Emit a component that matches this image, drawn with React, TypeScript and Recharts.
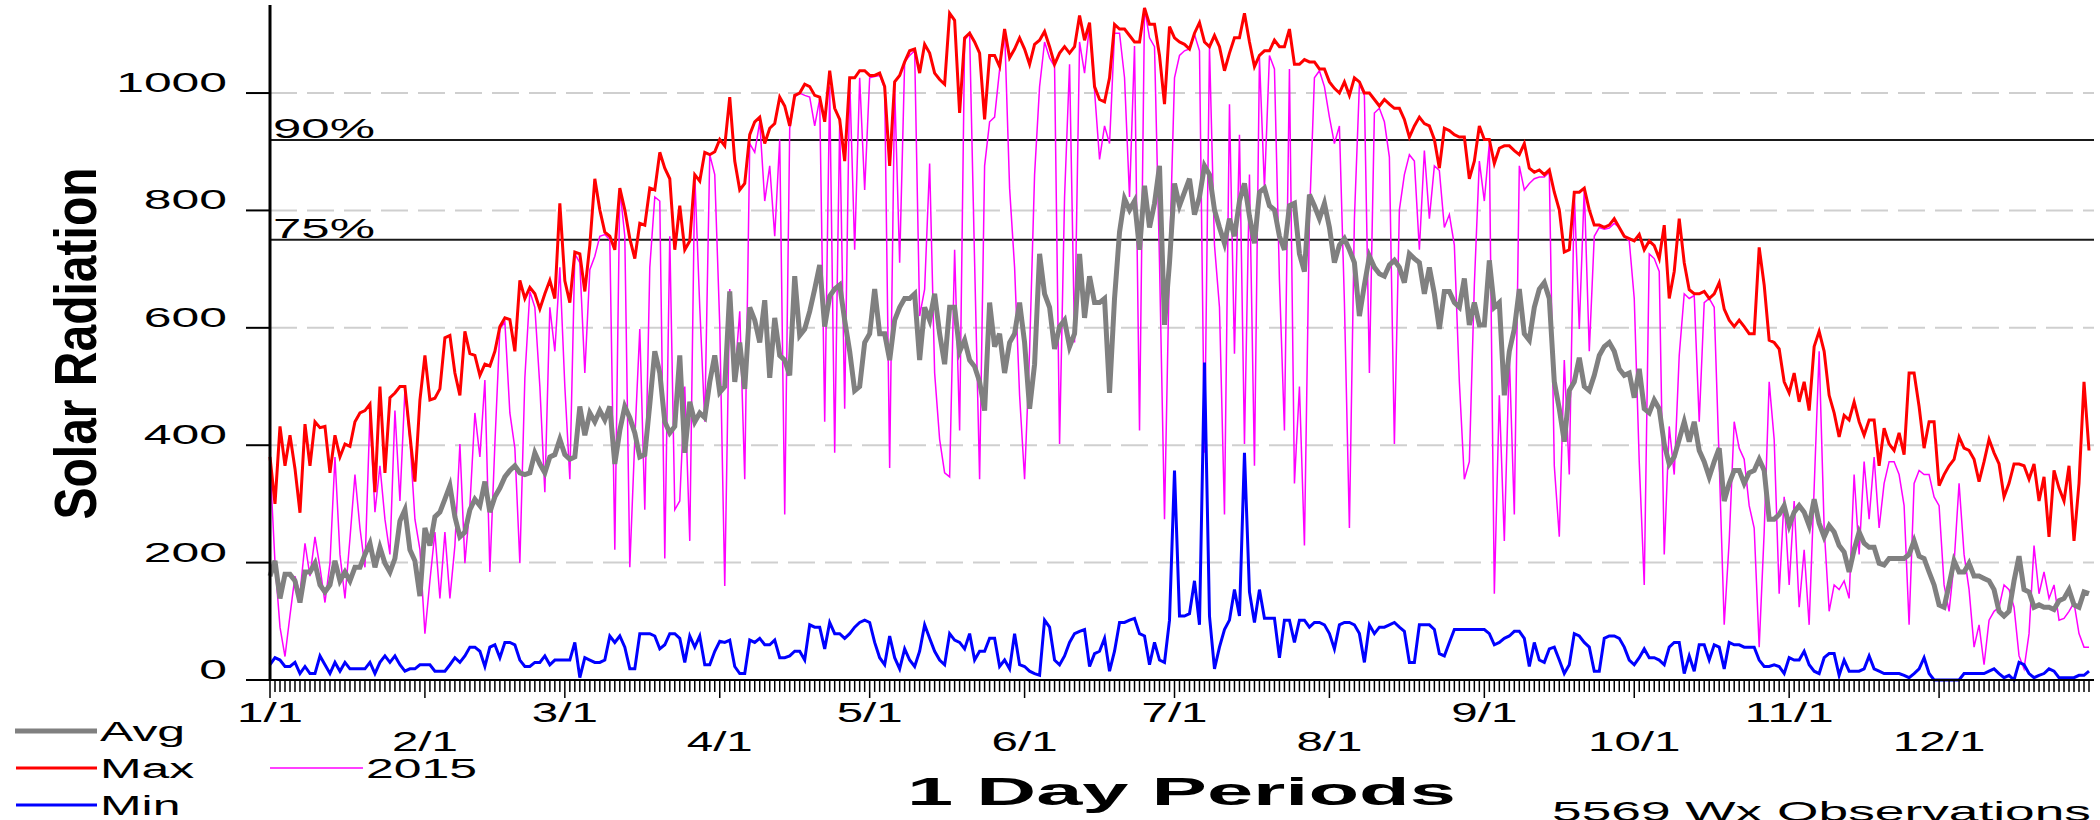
import React from "react";
import { LineChart, Line, XAxis, YAxis, CartesianGrid, ReferenceLine } from "recharts";

const FONT = '"Liberation Sans", Arial, Helvetica, sans-serif';

// month starts (day index in a 365 day year) and their labels
const monthStarts = [0, 31, 59, 90, 120, 151, 181, 212, 243, 273, 304, 334];
const monthLabels = ["1/1", "2/1", "3/1", "4/1", "5/1", "6/1", "7/1", "8/1", "9/1", "10/1", "11/1", "12/1"];
const yTicks = [0, 200, 400, 600, 800, 1000];
const pct90 = 920;
const pct75 = 750;

const avgSeries = [
  177, 203, 139, 180, 180, 169, 132, 184, 184, 199,
  162, 150, 162, 203, 169, 184, 169, 192, 192, 214,
  233, 192, 226, 199, 184, 207, 271, 290, 222, 203,
  143, 259, 229, 278, 286, 308, 331, 278, 244, 252,
  290, 308, 297, 338, 286, 312, 327, 346, 357, 365,
  353, 350, 353, 387, 368, 353, 380, 384, 410, 384,
  376, 380, 466, 417, 455, 440, 459, 443, 466, 368,
  425, 466, 447, 421, 380, 384, 470, 560, 523, 440,
  421, 432, 553, 387, 474, 440, 455, 447, 508, 553,
  490, 500, 662, 508, 575, 496, 635, 613, 575, 647,
  515, 617, 553, 545, 519, 688, 587, 598, 628, 666,
  707, 602, 654, 666, 673, 613, 560, 493, 500, 575,
  590, 666, 590, 590, 545, 613, 635, 650, 650, 658,
  545, 635, 613, 658, 590, 538, 635, 635, 560, 579,
  545, 534, 508, 459, 643, 568, 590, 523, 575, 590,
  643, 575, 462, 538, 726, 658, 635, 564, 602, 613,
  568, 590, 726, 617, 688, 643, 643, 650, 489, 650,
  763, 820, 801, 816, 733, 842, 771, 812, 876, 605,
  711, 846, 808, 831, 854, 793, 823, 876, 861, 801,
  771, 744, 786, 756, 816, 846, 790, 744, 831, 838,
  808, 801, 756, 733, 808, 812, 726, 696, 827, 808,
  786, 812, 771, 711, 741, 752, 733, 711, 620, 673,
  722, 703, 692, 688, 707, 715, 703, 677, 726, 718,
  711, 658, 703, 658, 598, 662, 662, 643, 635, 684,
  605, 643, 605, 605, 715, 635, 643, 485, 560, 598,
  666, 590, 579, 635, 666, 677, 650, 508, 462, 406,
  493, 508, 549, 500, 493, 519, 553, 568, 575, 560,
  530, 519, 523, 481, 530, 462, 455, 477, 462, 402,
  368, 380, 410, 440, 406, 440, 391, 372, 346, 372,
  395, 305, 335, 357, 357, 335, 353, 357, 376, 357,
  274, 274, 282, 297, 263, 286, 297, 286, 263, 308,
  267, 244, 263, 252, 229, 218, 184, 222, 252, 233,
  226, 226, 199, 196, 207, 207, 207, 207, 214, 237,
  211, 207, 184, 162, 128, 124, 162, 203, 184, 184,
  199, 177, 177, 173, 169, 154, 117, 109, 117, 169,
  211, 154, 150, 124, 128, 124, 124, 120, 135, 139,
  154, 128, 124, 150, 147,
];

const maxSeries = [
  380, 300, 432, 365, 417, 360, 285, 436, 365, 440,
  430, 432, 353, 417, 380, 402, 398, 440, 455, 459,
  470, 320, 500, 353, 481, 489, 500, 500, 417, 338,
  477, 553, 477, 480, 496, 583, 587, 523, 485, 594,
  556, 553, 519, 538, 535, 560, 602, 617, 614, 560,
  681, 650, 669, 658, 632, 658, 681, 650, 812, 680,
  643, 729, 726, 662, 741, 854, 801, 763, 756, 733,
  838, 801, 752, 718, 778, 775, 838, 835, 899, 872,
  854, 733, 808, 733, 748, 861, 850, 899, 895, 900,
  921, 910, 993, 884, 835, 846, 929, 951, 959, 914,
  940, 948, 993, 978, 944, 996, 1000, 1015, 1011, 996,
  993, 951, 1038, 974, 955, 884, 1026, 1026, 1038, 1038,
  1030, 1030, 1034, 1011, 876, 1019, 1030, 1053, 1072, 1075,
  1034, 1083, 1068, 1034, 1023, 1015, 1136, 1124, 966, 1094,
  1102, 1087, 1068, 955, 1064, 1064, 1045, 1109, 1060, 1075,
  1094, 1075, 1049, 1083, 1090, 1105, 1079, 1049, 1068, 1079,
  1068, 1079, 1132, 1090, 1120, 1011, 989, 985, 1026, 1117,
  1109, 1109, 1098, 1087, 1087, 1145, 1117, 1117, 1064, 981,
  1113, 1094, 1087, 1083, 1075, 1102, 1120, 1087, 1079, 1098,
  1079, 1038, 1068, 1094, 1094, 1136, 1087, 1045, 1064, 1072,
  1072, 1090, 1079, 1079, 1109, 1049, 1049, 1057, 1053, 1053,
  1041, 1041, 1019, 1008, 1000, 1019, 996, 1026, 1019, 1000,
  1000, 989, 978, 989, 981, 974, 974, 955, 925, 944,
  959, 948, 944, 921, 872, 940, 936, 929, 925, 925,
  854, 884, 944, 921, 921, 880, 906, 910, 910, 902,
  895, 914, 872, 865, 869, 861, 869, 831, 801, 729,
  733, 831, 831, 838, 801, 775, 775, 771, 775, 786,
  771, 756, 752, 748, 759, 733, 748, 740, 718, 775,
  650, 696, 786, 711, 665, 658, 658, 662, 650, 658,
  677, 632, 613, 602, 613, 602, 590, 590, 737, 673,
  579, 575, 564, 508, 489, 523, 474, 508, 459, 568,
  594, 560, 485, 455, 414, 451, 443, 474, 440, 417,
  443, 443, 365, 429, 402, 391, 421, 384, 523, 523,
  466, 395, 440, 440, 331, 350, 365, 376, 414, 395,
  391, 376, 338, 372, 410, 387, 368, 312, 335, 368,
  368, 365, 342, 368, 305, 346, 244, 357, 327, 305,
  365, 237, 335, 508, 391,
];

const minSeries = [
  26, 38, 34, 23, 23, 30, 11, 23, 11, 11,
  41, 26, 11, 30, 15, 30, 19, 19, 19, 19,
  30, 11, 30, 41, 30, 41, 26, 15, 19, 19,
  26, 26, 26, 15, 15, 15, 26, 38, 30, 41,
  56, 56, 49, 23, 56, 60, 38, 64, 64, 60,
  34, 23, 23, 30, 30, 41, 26, 34, 34, 34,
  34, 64, 4, 38, 34, 30, 30, 34, 75, 64,
  75, 56, 19, 19, 79, 79, 79, 75, 53, 60,
  79, 79, 71, 30, 75, 56, 75, 26, 26, 49,
  66, 64, 68, 23, 11, 11, 68, 64, 71, 60,
  60, 68, 38, 38, 41, 49, 49, 34, 94, 90,
  90, 53, 98, 79, 79, 71, 79, 90, 98, 102,
  98, 64, 38, 26, 75, 38, 19, 53, 34, 23,
  49, 94, 71, 49, 34, 26, 79, 68, 64, 53,
  79, 34, 49, 49, 71, 71, 23, 34, 19, 79,
  26, 23, 15, 11, 8, 102, 90, 34, 26, 41,
  64, 79, 83, 86, 23, 45, 49, 71, 15, 49,
  98, 98, 102, 105, 79, 75, 26, 64, 34, 30,
  102, 357, 109, 109, 113, 169, 94, 541, 109, 19,
  56, 86, 102, 154, 109, 387, 150, 98, 154, 105,
  105, 105, 38, 102, 102, 64, 102, 102, 90, 98,
  98, 94, 79, 53, 94, 98, 98, 94, 79, 30,
  94, 79, 90, 90, 94, 98, 90, 83, 30, 30,
  94, 94, 94, 86, 45, 41, 64, 86, 86, 86,
  86, 86, 86, 86, 79, 60, 64, 71, 75, 83,
  83, 71, 23, 64, 34, 30, 53, 56, 34, 11,
  26, 79, 75, 64, 56, 15, 15, 71, 75, 75,
  71, 56, 34, 26, 38, 53, 38, 38, 34, 26,
  56, 64, 64, 11, 41, 15, 60, 60, 34, 60,
  56, 19, 64, 60, 60, 56, 56, 56, 34, 23,
  23, 26, 23, 11, 38, 34, 34, 49, 26, 15,
  11, 38, 45, 45, 8, 34, 15, 15, 15, 19,
  41, 19, 15, 11, 11, 11, 11, 8, 4, 11,
  19, 38, 11, 0, 0, 0, 0, 0, 0, 11,
  11, 11, 11, 11, 15, 19, 11, 4, 8, 0,
  30, 26, 11, 4, 8, 11, 19, 15, 4, 4,
  4, 4, 8, 8, 15,
];

const series2015 = [
  370, 200, 90, 40, 110, 177, 147, 233, 177, 244,
  192, 132, 199, 380, 214, 139, 241, 350, 259, 192,
  455, 286, 365, 274, 214, 459, 305, 495, 410, 274,
  222, 79, 169, 252, 139, 252, 139, 229, 402, 199,
  297, 455, 380, 511, 184, 402, 598, 610, 455, 395,
  199, 515, 662, 635, 500, 320, 635, 560, 703, 500,
  342, 726, 711, 523, 699, 722, 756, 759, 750, 222,
  838, 756, 192, 410, 598, 290, 703, 823, 816, 207,
  756, 290, 305, 500, 237, 861, 635, 440, 895, 861,
  605, 160, 666, 515, 628, 342, 914, 899, 951, 816,
  876, 756, 921, 282, 940, 993, 1000, 996, 993, 944,
  990, 440, 1011, 387, 951, 462, 1026, 733, 1026, 835,
  1026, 1028, 1030, 1008, 361, 1011, 711, 1053, 1064, 1072,
  620, 666, 880, 523, 410, 353, 346, 733, 425, 1090,
  1102, 711, 342, 876, 951, 959, 1040, 1109, 838, 703,
  485, 342, 560, 861, 1011, 1087, 1060, 1045, 402, 823,
  1049, 575, 1087, 1034, 1117, 1004, 887, 944, 914, 1102,
  1102, 1026, 823, 1080, 425, 1145, 1094, 1079, 711, 274,
  718, 1026, 1064, 1072, 1075, 1100, 1072, 387, 1079, 741,
  635, 282, 981, 556, 929, 402, 861, 365, 1060, 838,
  1064, 1041, 681, 425, 1041, 335, 500, 229, 786, 1026,
  1038, 1011, 959, 914, 944, 643, 259, 786, 1015, 996,
  523, 966, 974, 951, 891, 402, 801, 861, 895, 884,
  733, 902, 786, 876, 868, 771, 793, 741, 508, 342,
  372, 673, 884, 816, 914, 147, 485, 237, 553, 282,
  876, 835, 846, 854, 857, 857, 865, 365, 244, 545,
  350, 831, 598, 838, 560, 756, 771, 768, 770, 778,
  771, 756, 748, 650, 372, 162, 726, 718, 696, 214,
  432, 350, 553, 658, 650, 655, 440, 643, 650, 635,
  372, 94, 237, 440, 395, 376, 297, 259, 56, 252,
  508, 410, 147, 312, 162, 305, 124, 222, 94, 327,
  560, 259, 117, 162, 154, 169, 139, 350, 214, 372,
  274, 380, 259, 335, 372, 372, 350, 297, 94, 335,
  357, 350, 350, 312, 297, 162, 117, 199, 335, 214,
  154, 56, 94, 26, 102, 117, 124, 162, 154, 124,
  41, 19, 79, 229, 147, 184, 139, 162, 102, 105,
  117, 132, 79, 56, 56,
];

const dayTicks = maxSeries.map((_, i) => i);
const rows = dayTicks.map((d) => ({
  day: d,
  avg: avgSeries[d],
  max: maxSeries[d],
  min: minSeries[d],
  y2015: series2015[d],
}));

function XTick({ x, y, payload }: any) {
  const idx = monthStarts.indexOf(payload.value);
  const major = idx >= 0;
  return (
    <g>
      <line x1={x} x2={x} y1={y} y2={y + (major ? 18 : 12)} stroke="#000" strokeWidth={1.5} />
      {major && (
        <text
          transform={`translate(${x},${y + (idx % 2 === 0 ? 42 : 71)}) scale(1.76,1)`}
          textAnchor="middle"
          fontSize={27}
          fontFamily={FONT}
          fill="#000"
        >
          {monthLabels[idx]}
        </text>
      )}
    </g>
  );
}

function YTick({ x, y, payload }: any) {
  return (
    <g>
      <line x1={x - 24} x2={x} y1={y} y2={y} stroke="#000" strokeWidth={2} />
      <text
        transform={`translate(${x - 43},${y - 1}) scale(1.78,1)`}
        textAnchor="end"
        fontSize={28}
        fontFamily={FONT}
        fill="#000"
      >
        {payload.value}
      </text>
    </g>
  );
}

const refLabel = (text: string) => (p: any) => (
  <text
    transform={`translate(${p.viewBox.x + 3},${p.viewBox.y - 2}) scale(1.82,1)`}
    fontSize={28}
    fontFamily={FONT}
    fill="#000"
  >
    {text}
  </text>
);

function LegendKey({ x, y, len, color, width, label }: any) {
  return (
    <g>
      <line x1={x} x2={x + len} y1={y} y2={y} stroke={color} strokeWidth={width} />
      <text
        transform={`translate(${x + len + 3},${y + 10}) scale(1.85,1)`}
        fontSize={27}
        fontFamily={FONT}
        fill="#000"
      >
        {label}
      </text>
    </g>
  );
}

export default function App() {
  return (
    <div style={{ position: "absolute", left: 0, top: 0, width: 2100, height: 820, background: "#fff" }}>
      <LineChart
        width={2100}
        height={820}
        data={rows}
        margin={{ top: 5, right: 6, left: 210, bottom: 100 }}
      >
        <CartesianGrid
          vertical={false}
          horizontalValues={yTicks}
          stroke="#cfcfcf"
          strokeWidth={2}
          strokeDasharray="27 10"
        />
        <XAxis
          dataKey="day"
          type="number"
          domain={[0, 365]}
          ticks={dayTicks}
          interval={0}
          height={40}
          tickLine={false}
          tickSize={0}
          tickMargin={0}
          axisLine={{ stroke: "#000", strokeWidth: 2 }}
          tick={<XTick />}
        />
        <YAxis
          type="number"
          domain={[0, 1150]}
          ticks={yTicks}
          width={60}
          tickLine={false}
          tickSize={0}
          tickMargin={0}
          axisLine={{ stroke: "#000", strokeWidth: 3 }}
          tick={<YTick />}
        />
        <ReferenceLine y={pct90} stroke="#1a1a1a" strokeWidth={2} label={refLabel("90%")} />
        <ReferenceLine y={pct75} stroke="#1a1a1a" strokeWidth={2} label={refLabel("75%")} />
        <Line type="linear" dataKey="y2015" stroke="#ff00ff" strokeWidth={1.5} dot={false} isAnimationActive={false} />
        <Line type="linear" dataKey="avg" stroke="#808080" strokeWidth={5} dot={false} isAnimationActive={false} />
        <Line type="linear" dataKey="max" stroke="#ff0000" strokeWidth={3} dot={false} isAnimationActive={false} />
        <Line type="linear" dataKey="min" stroke="#0000ff" strokeWidth={3} dot={false} isAnimationActive={false} />
      </LineChart>
      <svg
        width={2100}
        height={820}
        style={{ position: "absolute", left: 0, top: 0, pointerEvents: "none" }}
      >
        <text
          transform="translate(96,343.5) scale(1.23,1) rotate(-90)"
          textAnchor="middle"
          fontSize={48}
          fontWeight="bold"
          fontFamily={FONT}
          fill="#000"
        >
          Solar Radiation
        </text>
        <text
          x={907}
          y={805}
          fontSize={39}
          fontWeight="bold"
          fontFamily={FONT}
          textLength={549}
          lengthAdjust="spacingAndGlyphs"
          fill="#000"
        >
          1 Day Periods
        </text>
        <text
          x={1552}
          y={821}
          fontSize={28}
          fontFamily={FONT}
          textLength={539}
          lengthAdjust="spacingAndGlyphs"
          fill="#000"
        >
          5569 Wx Observations
        </text>
        <LegendKey x={15} y={731} len={82} color="#808080" width={5} label="Avg" />
        <LegendKey x={16} y={768} len={81} color="#ff0000" width={3} label="Max" />
        <LegendKey x={16} y={805} len={81} color="#0000ff" width={3} label="Min" />
        <LegendKey x={270} y={768} len={93} color="#ff00ff" width={1.5} label="2015" />
      </svg>
    </div>
  );
}
